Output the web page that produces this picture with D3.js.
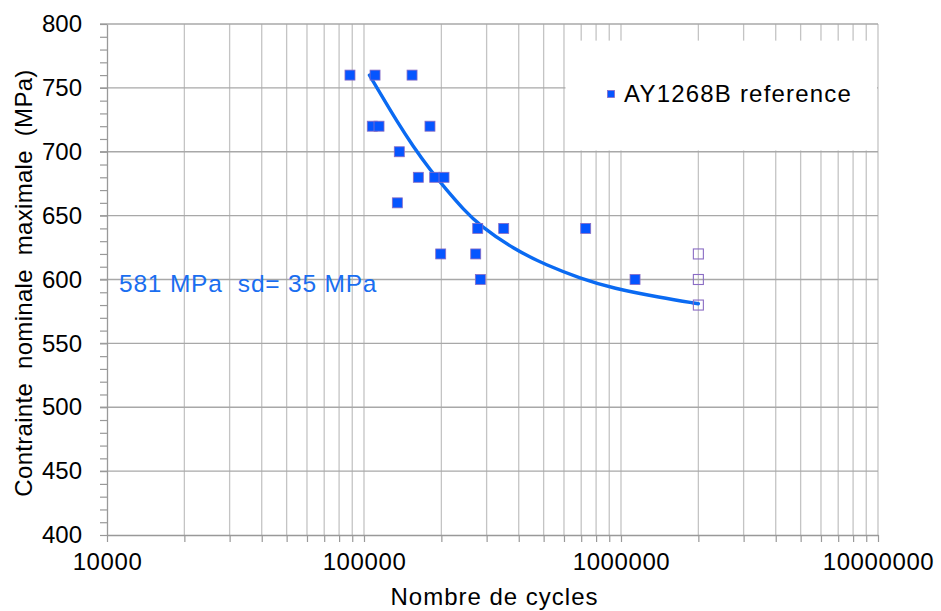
<!DOCTYPE html>
<html><head><meta charset="utf-8">
<script src="https://cdn.jsdelivr.net/npm/d3@7"></script>
<style>
html,body{margin:0;padding:0;background:#fff;}
svg{display:block;font-family:"Liberation Sans",Arial,sans-serif;}
</style></head>
<body><svg id="c" width="941" height="611"></svg>
<script>
// ---- data ----
const failCycles = [88200,110400,153800,107700,114400,180600,137200,162700,188400,204800,134800,277000,349600,728800,198800,272100,283600,1134000];
const failStress = [760,760,760,720,720,720,700,680,680,680,660,640,640,640,620,620,600,600];
const runoutCycles = [2000000,2000000,2000000];
const runoutStress = [620,600,580];
const fitCycles = [105000,115400,134100,155500,180600,209800,243500,282800,381000,513800,692700,933300,1418000,2000000];
const fitStress = [760,746,724,704,686,670,655,642,624,611,601,593,586,581];
const xTickLabels = ["10000","100000","1000000","10000000"];
const yTickLabels = ["400","450","500","550","600","650","700","750","800"];
const seriesName = "AY1268B reference";
const annotation = "581 MPa  sd= 35 MPa";
const xTitle = "Nombre de cycles";
const yTitle = "Contrainte  nominale  maximale  (MPa)";

// ---- chart ----
const svg = d3.select("#c");
const L=107,R=878,T=24,B=535;
const x = d3.scaleLog().domain([1e4,1e7]).range([L,R]);
const y = d3.scaleLinear().domain([400,800]).range([B,T]);

const xTicks=[];
for(let k=4;k<7;k++) for(let m=1;m<10;m++) xTicks.push(m*Math.pow(10,k));
xTicks.push(1e7);
const yMinor=d3.range(400,801,10);
const yMajor=yTickLabels.map(Number);

// vertical gridlines
svg.append("g").selectAll("line").data(xTicks.filter(v=>v>1e4)).join("line")
  .attr("x1",d=>x(d)).attr("x2",d=>x(d)).attr("y1",T).attr("y2",B)
  .attr("stroke","#c4c4c4").attr("stroke-width",1.3);
// horizontal gridlines
svg.append("g").selectAll("line").data(yMajor.filter(v=>v>400)).join("line")
  .attr("x1",L-7).attr("x2",R).attr("y1",d=>y(d)).attr("y2",d=>y(d))
  .attr("stroke","#a8a8a8").attr("stroke-width",1.3);

// axes
const xAxis = d3.axisBottom(x).tickValues(xTicks).tickSize(7).tickSizeOuter(0)
  .tickFormat(d=>{const i=xTickLabels.indexOf(String(d));return i>=0?xTickLabels[i]:"";});
const gx=svg.append("g").attr("transform",`translate(0,${B})`).call(xAxis);
gx.select(".domain").attr("stroke","#999").attr("stroke-width",1.3);
gx.selectAll(".tick line").attr("stroke","#999").attr("stroke-width",1.2);
gx.selectAll("text").attr("font-size",24).attr("fill","#000").attr("dy","1.05em")
  .attr("letter-spacing","0.6px").attr("font-family","Liberation Sans, Arial, sans-serif");

const yAxis = d3.axisLeft(y).tickValues(yMinor).tickSize(7).tickSizeOuter(0)
  .tickFormat(d=>{const i=yTickLabels.indexOf(String(d));return i>=0?yTickLabels[i]:"";});
const gy=svg.append("g").attr("transform",`translate(${L},0)`).call(yAxis);
gy.select(".domain").attr("stroke","#999").attr("stroke-width",1.3);
gy.selectAll(".tick line").attr("stroke","#999").attr("stroke-width",1.2);
gy.selectAll("text").attr("font-size",24).attr("fill","#000").attr("x",-25).attr("font-family","Liberation Sans, Arial, sans-serif");

// legend box (covers gridlines)
svg.append("rect").attr("x",x(6e5)+1.5).attr("y",y(787)).attr("width",R-x(6e5)-2.5).attr("height",y(701)-y(787))
  .attr("fill","#fff");

// fitted curve
const fit = fitCycles.map((c,i)=>[c,fitStress[i]]);
svg.append("path").datum(fit)
  .attr("d",d3.line().x(d=>x(d[0])).y(d=>y(d[1])).curve(d3.curveBasis))
  .attr("fill","none").attr("stroke","#0a6af2").attr("stroke-width",3.4).attr("stroke-linecap","round");

// points
const s=10;
svg.append("g").selectAll("rect").data(failCycles.map((c,i)=>[c,failStress[i]])).join("rect")
  .attr("x",d=>x(d[0])-s/2).attr("y",d=>y(d[1])-s/2).attr("width",s).attr("height",s)
  .attr("fill","#0555ff").attr("stroke","#8a6cc4").attr("stroke-width",0.8);
svg.append("g").selectAll("rect").data(runoutCycles.map((c,i)=>[c,runoutStress[i]])).join("rect")
  .attr("x",d=>x(d[0])-s/2).attr("y",d=>y(d[1])-s/2).attr("width",s).attr("height",s)
  .attr("fill","none").attr("stroke","#8a6cc4").attr("stroke-width",1.1);

// legend
svg.append("rect").attr("x",607.5).attr("y",90.5).attr("width",7).attr("height",7)
  .attr("fill","#0555ff").attr("stroke","#8a6cc4").attr("stroke-width",0.8);
svg.append("text").attr("x",624).attr("y",102).attr("font-size",24).attr("letter-spacing","1.2px")
  .attr("fill","#000").text(seriesName);

// annotation
svg.append("text").attr("x",119).attr("y",292).attr("font-size",24.5).attr("fill","#1a6ef0")
  .attr("letter-spacing","0.8px").style("white-space","pre").text(annotation);

// titles
svg.append("text").attr("x",(L+R)/2+2).attr("y",605).attr("text-anchor","middle").attr("font-size",24)
  .attr("letter-spacing","1px").attr("fill","#000").text(xTitle);
svg.append("text").attr("transform",`translate(32,283) rotate(-90)`).attr("text-anchor","middle")
  .attr("font-size",24).attr("letter-spacing","0.3px").attr("fill","#000").style("white-space","pre").text(yTitle);
</script></body></html>
